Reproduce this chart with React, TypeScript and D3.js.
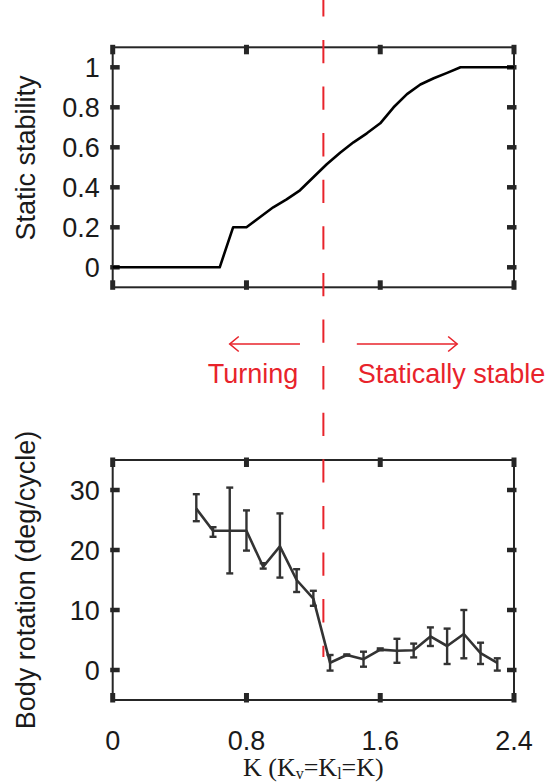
import React from "react";
import * as d3 from "d3";

// ---- Data ----
const stabK = [0, 0.08, 0.16, 0.24, 0.32, 0.4, 0.48, 0.56, 0.64, 0.72, 0.8, 0.88, 0.96, 1.04, 1.12, 1.2, 1.28, 1.36, 1.44, 1.52, 1.6, 1.68, 1.76, 1.84, 1.92, 2.0, 2.08, 2.16, 2.24, 2.32, 2.4];
const stabVal = [0, 0, 0, 0, 0, 0, 0, 0, 0, 0.2, 0.2, 0.25, 0.3, 0.34, 0.385, 0.45, 0.515, 0.573, 0.625, 0.67, 0.72, 0.8, 0.866, 0.914, 0.945, 0.972, 1, 1, 1, 1, 1];

const rotK = [0.5, 0.6, 0.7, 0.8, 0.9, 1.0, 1.1, 1.2, 1.3, 1.4, 1.5, 1.6, 1.7, 1.8, 1.9, 2.0, 2.1, 2.2, 2.3];
const rotMean = [26.9, 23.2, 23.2, 23.2, 17.2, 20.6, 15.0, 11.9, 1.2, 2.5, 1.8, 3.4, 3.2, 3.3, 5.6, 4.0, 6.0, 2.8, 1.2];
const rotUpper = [29.3, 23.8, 30.4, 26.6, 17.8, 26.1, 16.8, 13.2, 2.5, 2.6, 3.05, 3.6, 5.2, 4.4, 7.1, 6.9, 10.0, 4.55, 1.95];
const rotLower = [24.8, 22.2, 16.1, 19.9, 16.9, 15.4, 13.0, 10.7, -0.1, 2.4, 0.55, 3.3, 1.2, 2.1, 4.0, 1.0, 1.95, 1.0, -0.1];

const xTicks = [0, 0.8, 1.6, 2.4];
const xTickLabels = ["0", "0.8", "1.6", "2.4"];
const topYTicks = [0, 0.2, 0.4, 0.6, 0.8, 1];
const topYTickLabels = ["0", "0.2", "0.4", "0.6", "0.8", "1"];
const botYTicks = [0, 10, 20, 30];
const botYTickLabels = ["0", "10", "20", "30"];

const boundaryK = 1.26;
const leftArrowK = [1.12, 0.70];
const rightArrowK = [1.46, 2.06];

const topYLabel = "Static stability";
const botYLabel = "Body rotation (deg/cycle)";
const leftText = "Turning";
const rightText = "Statically stable";

// ---- Layout ----
const W = 559, H = 783;
const X0 = 112.7, X1 = 514;
const TOP = { y0: 47.3, y1: 287.3 };
const BOT = { y0: 460, y1: 700 };
const AX = "#262626";
const RED = "#e8232b";
const SANS = "'Liberation Sans', Arial, sans-serif";
const TICKFS = 27;
const LABFS = 27;

function Frame({ y0, y1, yScale, yTicks, yLabels, x }: any) {
  const els: any[] = [];
  els.push(<rect key="box" x={X0} y={y0} width={X1 - X0} height={y1 - y0} fill="none" stroke={AX} strokeWidth={2} />);
  xTicks.forEach((t, i) => {
    const px = x(t);
    els.push(<line key={"xb" + i} x1={px} x2={px} y1={y1 + 2.5} y2={y1 - 7} stroke={AX} strokeWidth={5} />);
    els.push(<line key={"xt" + i} x1={px} x2={px} y1={y0 - 2.5} y2={y0 + 7} stroke={AX} strokeWidth={5} />);
  });
  yTicks.forEach((t: number, i: number) => {
    const py = yScale(t);
    els.push(<line key={"yl" + i} x1={X0 - 2.5} x2={X0 + 7} y1={py} y2={py} stroke={AX} strokeWidth={4.5} />);
    els.push(<line key={"yr" + i} x1={X1 + 2.5} x2={X1 - 7} y1={py} y2={py} stroke={AX} strokeWidth={4.5} />);
    els.push(
      <text key={"ytl" + i} x={X0 - 13} y={py} dy="0.36em" textAnchor="end" fontFamily={SANS} fontSize={TICKFS} fill="#1a1a1a">
        {yLabels[i]}
      </text>
    );
  });
  return <g>{els}</g>;
}

export default function App() {
  const x = d3.scaleLinear().domain([0, 2.4]).range([X0, X1]);
  const yTop = d3.scaleLinear().domain([-0.1, 1.1]).range([TOP.y1, TOP.y0]);
  const yBot = d3.scaleLinear().domain([-5, 35]).range([BOT.y1, BOT.y0]);

  const topLine = d3.line<number>().x((_, i) => x(stabK[i])).y((d) => yTop(d))(stabVal) || "";
  const botLine = d3.line<number>().x((_, i) => x(rotK[i])).y((d) => yBot(d))(rotMean) || "";

  const bx = x(boundaryK);
  const arrowY = 344;
  const la0 = x(leftArrowK[0]), la1 = x(leftArrowK[1]);
  const ra0 = x(rightArrowK[0]), ra1 = x(rightArrowK[1]);

  return (
    <svg width={W} height={H} style={{ position: "absolute", left: 0, top: 0, background: "#fff" }}>
      <Frame y0={TOP.y0} y1={TOP.y1} yScale={yTop} yTicks={topYTicks} yLabels={topYTickLabels} x={x} />
      <Frame y0={BOT.y0} y1={BOT.y1} yScale={yBot} yTicks={botYTicks} yLabels={botYTickLabels} x={x} />

      <path d={topLine} fill="none" stroke="#000" strokeWidth={2.6} strokeLinejoin="round" />

      {rotK.map((k, i) => {
        const px = x(k);
        const yu = yBot(rotUpper[i]);
        const yl = yBot(rotLower[i]);
        return (
          <g key={"eb" + i} stroke="#333" strokeWidth={2.4}>
            <line x1={px} x2={px} y1={yu} y2={yl} />
            <line x1={px - 3.5} x2={px + 3.5} y1={yu} y2={yu} />
            <line x1={px - 3.5} x2={px + 3.5} y1={yl} y2={yl} />
          </g>
        );
      })}
      <path d={botLine} fill="none" stroke="#333" strokeWidth={2.6} strokeLinejoin="round" />

      <line x1={bx} x2={bx} y1={-6.7} y2={657} stroke={RED} strokeWidth={2} strokeDasharray="23.3,23.3" />

      {/* annotations */}
      <g stroke={RED} strokeWidth={1.6} fill="none">
        <line x1={la0} x2={la1} y1={arrowY} y2={arrowY} />
        <polyline points={`${la1 + 9},${arrowY - 7.5} ${la1},${arrowY} ${la1 + 9},${arrowY + 7.5}`} />
        <line x1={ra0} x2={ra1} y1={arrowY} y2={arrowY} />
        <polyline points={`${ra1 - 9},${arrowY - 7.5} ${ra1},${arrowY} ${ra1 - 9},${arrowY + 7.5}`} />
      </g>
      <text x={x(1.11)} y={383} textAnchor="end" fontFamily={SANS} fontSize={LABFS} fill={RED}>{leftText}</text>
      <text x={x(1.465)} y={383} textAnchor="start" fontFamily={SANS} fontSize={LABFS} fill={RED}>{rightText}</text>

      {/* x tick labels */}
      {xTicks.map((t, i) => (
        <text key={"xtl" + i} x={x(t)} y={750} textAnchor="middle" fontFamily={SANS} fontSize={TICKFS} fill="#1a1a1a">
          {xTickLabels[i]}
        </text>
      ))}

      {/* axis labels */}
      <text transform={`translate(35,158) rotate(-90)`} textAnchor="middle" fontFamily={SANS} fontSize={LABFS} fill="#1a1a1a">
        {topYLabel}
      </text>
      <text transform={`translate(35,580) rotate(-90)`} textAnchor="middle" fontFamily={SANS} fontSize={LABFS} fill="#1a1a1a">
        {botYLabel}
      </text>
      <text x={(X0 + X1) / 2} y={776} textAnchor="middle" fontFamily="'Liberation Serif', 'DejaVu Serif', serif" fontSize={26} fill="#1a1a1a">
        K (K<tspan fontSize={16} dy={3}>v</tspan><tspan dy={-3}>=K</tspan><tspan fontSize={16} dy={3}>l</tspan><tspan dy={-3}>=K)</tspan>
      </text>
    </svg>
  );
}
